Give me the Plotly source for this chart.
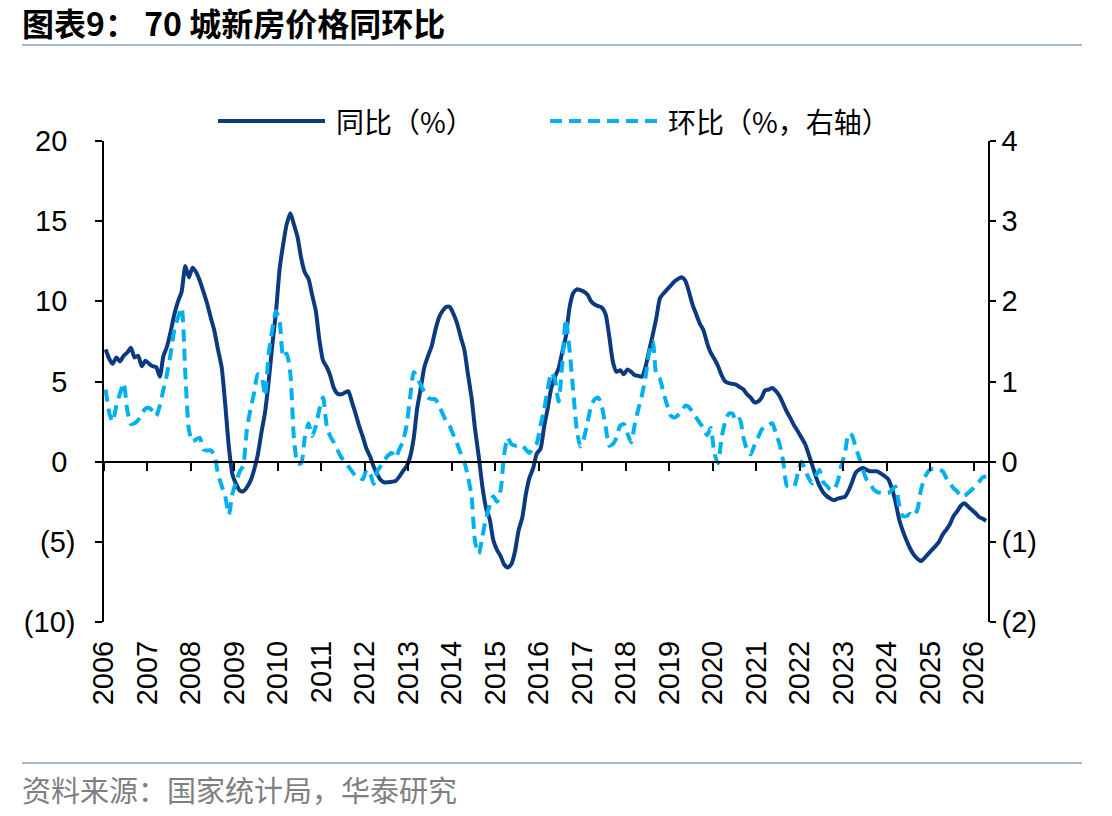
import pandas as pd
import plotly.graph_objects as go

# ---------------- data (monthly, 2006-01 .. 2026-04) ----------------
yoy = [
    # 2006
    7.0, 6.4, 6.1, 6.5, 6.25, 6.6, 6.8, 7.1, 6.5, 6.6, 5.95, 6.3,
    # 2007
    6.1, 5.95, 5.9, 5.3, 6.6, 7.2, 8.1, 9.2, 10.0, 10.6, 12.2, 11.5,
    # 2008
    12.1, 11.8, 11.3, 10.6, 9.9, 9.0, 8.2, 7.0, 5.9, 3.6, 0.9, -0.8,
    # 2009
    -1.4, -1.8, -1.85, -1.6, -1.2, -0.5, 0.4, 1.8, 3.1, 5.0, 7.3, 9.3,
    # 2010
    12.0, 13.6, 14.8, 15.5, 14.8, 14.0, 12.7, 11.8, 11.4, 10.4, 9.4, 7.6,
    # 2011
    6.3, 5.9, 5.4, 4.6, 4.25, 4.2, 4.3, 4.4, 3.7, 3.0, 2.2, 1.55,
    # 2012
    0.8, 0.3, -0.3, -0.8, -1.15, -1.3, -1.28, -1.25, -1.2, -0.95, -0.6, -0.3,
    # 2013
    0.3, 1.5, 3.3, 4.6, 5.9, 6.6, 7.2, 8.2, 9.0, 9.4, 9.65, 9.65,
    # 2014
    9.2, 8.6, 7.8, 7.0, 5.5, 4.0, 2.0, 0.3, -1.6, -2.9, -3.6, -4.9,
    # 2015
    -5.5, -5.9, -6.4, -6.6, -6.4, -5.6, -4.3, -3.5, -2.0, -1.0, -0.4, 0.5,
    # 2016
    0.8, 2.2, 3.3, 4.6, 5.3, 5.8, 6.8, 7.8, 9.6, 10.5, 10.75, 10.7,
    # 2017
    10.6, 10.4, 10.0, 9.8, 9.7, 9.6, 9.2, 7.8, 6.2, 5.6, 5.7, 5.45,
    # 2018
    5.75, 5.6, 5.4, 5.35, 5.3, 5.9, 6.9, 7.9, 9.0, 10.2, 10.5, 10.75,
    # 2019
    11.0, 11.25, 11.4, 11.5, 11.3, 10.6, 9.8, 9.2, 8.6, 8.2, 7.4, 6.8,
    # 2020
    6.4, 5.95, 5.4, 5.0, 4.9, 4.85, 4.8, 4.65, 4.5, 4.2, 4.0, 3.7,
    # 2021
    3.75, 4.0, 4.45, 4.5, 4.6, 4.4, 4.1, 3.6, 3.1, 2.7, 2.25, 1.9,
    # 2022
    1.5, 1.1, 0.5, -0.2, -0.9, -1.5, -1.9, -2.15, -2.3, -2.4, -2.3, -2.25,
    # 2023
    -2.2, -1.8, -1.3, -0.7, -0.5, -0.4, -0.5, -0.6, -0.6, -0.6, -0.75, -0.9,
    # 2024
    -1.1, -1.7, -2.5, -3.6, -4.3, -4.9, -5.4, -5.8, -6.05, -6.2, -6.0, -5.75,
    # 2025
    -5.5, -5.25, -5.0, -4.55, -4.25, -3.9, -3.4, -3.1, -2.75, -2.6, -2.8, -3.0,
    # 2026
    -3.2, -3.45, -3.55, -3.7,
]

mom = [
    # 2006
    0.9, 0.6, 0.5, 0.7, 0.85, 0.98, 0.65, 0.47, 0.48, 0.52, 0.6, 0.66,
    # 2007
    0.67, 0.63, 0.57, 0.7, 0.9, 1.1, 1.35, 1.65, 1.8, 1.92, 1.1, 0.4,
    # 2008
    0.25, 0.28, 0.3, 0.15, 0.14, 0.14, 0.09, -0.15, -0.3, -0.43, -0.66, -0.4,
    # 2009
    -0.25, -0.12, -0.05, 0.4, 0.65, 0.86, 1.09, 1.07, 0.82, 1.35, 1.65, 1.88,
    # 2010
    1.75, 1.3, 1.35, 1.1, 0.3, -0.02, -0.02, 0.3, 0.48, 0.32, 0.44, 0.65,
    # 2011
    0.8, 0.44, 0.32, 0.24, 0.15, 0.06, 0.0, -0.06, -0.12, -0.18, -0.2, -0.22,
    # 2012
    -0.1, -0.15, -0.28, -0.12, -0.05, 0.02, 0.08, 0.11, 0.05, 0.15, 0.25, 0.44,
    # 2013
    0.8, 1.12, 1.05, 0.95, 0.87, 0.8, 0.78, 0.78, 0.7, 0.6, 0.5, 0.44,
    # 2014
    0.33, 0.22, 0.11, 0.0, -0.18, -0.43, -1.0, -1.15, -0.93, -0.7, -0.55, -0.43,
    # 2015
    -0.5, -0.35, 0.08, 0.3, 0.22, 0.2, 0.2, 0.2, 0.15, 0.11, 0.18, 0.23,
    # 2016
    0.45, 0.65, 0.9, 1.11, 1.03, 0.75, 1.2, 1.78, 1.4, 0.9, 0.4, 0.19,
    # 2017
    0.3, 0.5, 0.69, 0.78, 0.8, 0.68, 0.44, 0.2, 0.22, 0.3, 0.45, 0.47,
    # 2018
    0.35, 0.24, 0.45, 0.65, 0.82, 1.05, 1.35, 1.5, 1.08, 1.03, 0.85, 0.7,
    # 2019
    0.57, 0.55, 0.58, 0.62, 0.7, 0.68, 0.62, 0.55, 0.48, 0.42, 0.33, 0.42,
    # 2020
    0.1, -0.02, 0.3, 0.5, 0.6, 0.6, 0.5, 0.53, 0.3, 0.15, 0.09, 0.2,
    # 2021
    0.3, 0.4, 0.44, 0.46, 0.48, 0.35, 0.22, 0.0, -0.3, -0.31, -0.31, -0.15,
    # 2022
    0.0, -0.1, -0.2, -0.27, -0.18, -0.1, -0.25, -0.3, -0.35, -0.35, -0.25, -0.05,
    # 2023
    0.1, 0.35, 0.33, 0.18, 0.05, -0.1, -0.22, -0.27, -0.35, -0.38, -0.39, -0.39,
    # 2024
    -0.39, -0.35, -0.31, -0.54, -0.68, -0.68, -0.65, -0.68, -0.6, -0.35, -0.2, -0.12,
    # 2025
    -0.09, -0.09, -0.1, -0.12, -0.2, -0.27, -0.33, -0.37, -0.43, -0.43, -0.39, -0.35,
    # 2026
    -0.3, -0.25, -0.2, -0.18,
]

years = list(range(2006, 2027))
year_labels = [str(y) for y in years]
left_ticks = [-10, -5, 0, 5, 10, 15, 20]
left_labels = ["(10)", "(5)", "0\u00a0", "5\u00a0", "10\u00a0", "15\u00a0", "20\u00a0"]
right_ticks = [-2, -1, 0, 1, 2, 3, 4]
right_labels = ["(2)", "(1)", "0", "1", "2", "3", "4"]

series_names = ["同比（%）", "环比（%，右轴）"]
title_text = "图表9： 70 城新房价格同环比"
source_text = "资料来源：国家统计局，华泰研究"

# ---------------- layout constants ----------------
W, H = 1112, 816
L, R, T, B = 104, 124, 141, 194
PW, PH = W - L - R, H - T - B

def px(x):
    return (x - L) / PW

def py(y):
    return (H - B - y) / PH

DARK = "#0B3A7E"
LIGHT = "#00B0F0"
RULE = "#A7B7CF"
NUM_FONT = "Liberation Sans, Arial, sans-serif"
CJK_FONT = "Noto Sans CJK SC"

dates = pd.date_range("2006-01-01", periods=len(yoy), freq="MS") + pd.Timedelta(days=14)
x_start = "2006-01-01"
x_end = "2026-05-01"

fig = go.Figure()
fig.add_trace(go.Scatter(
    x=dates, y=yoy, name=series_names[0], mode="lines",
    line=dict(color=DARK, width=4, shape="spline", smoothing=0.6),
    showlegend=False, yaxis="y", xaxis="x",
))
fig.add_trace(go.Scatter(
    x=dates, y=mom, name=series_names[1], mode="lines",
    line=dict(color=LIGHT, width=4, dash="12px,7px", shape="spline", smoothing=0.6),
    showlegend=False, yaxis="y2", xaxis="x",
))
# empty trace so the zero-line axis (x2) is drawn
fig.add_trace(go.Scatter(x=[], y=[], xaxis="x2", yaxis="y", showlegend=False, hoverinfo="skip"))

tickvals = [pd.Timestamp(f"{y}-01-01") for y in years]

fig.update_layout(
    width=W, height=H,
    margin=dict(l=L, r=R, t=T, b=B, pad=0),
    paper_bgcolor="white", plot_bgcolor="white",
    showlegend=False,
    xaxis=dict(
        type="date", range=[x_start, x_end],
        tickvals=tickvals, ticktext=year_labels,
        tickangle=-90, ticks="", showline=False, showgrid=False, zeroline=False,
        tickfont=dict(family=NUM_FONT, size=29, color="black"),
        ticklabelstandoff=12,
    ),
    xaxis2=dict(
        type="date", range=[x_start, x_end], matches="x", overlaying="x",
        anchor="free", position=py(462),
        tickvals=tickvals, showticklabels=False,
        ticks="outside", ticklen=8, tickwidth=1.5, tickcolor="black",
        showline=True, linecolor="black", linewidth=1.5,
        showgrid=False, zeroline=False,
    ),
    yaxis=dict(
        range=[-10, 20], tickvals=left_ticks, ticktext=left_labels,
        showline=True, linecolor="black", linewidth=1.5,
        ticks="outside", ticklen=7, tickwidth=1.5, tickcolor="black",
        showgrid=False, zeroline=False,
        tickfont=dict(family=NUM_FONT, size=29, color="black"),
        ticklabelstandoff=14,
    ),
    yaxis2=dict(
        range=[-2, 4], tickvals=right_ticks, ticktext=right_labels,
        overlaying="y", side="right",
        showline=True, linecolor="black", linewidth=1.5,
        ticks="outside", ticklen=6, tickwidth=1.5, tickcolor="black",
        showgrid=False, zeroline=False,
        tickfont=dict(family=NUM_FONT, size=29, color="black"),
        ticklabelstandoff=0,
    ),
)

shapes = [
    dict(type="line", xref="paper", yref="paper", x0=px(22), x1=px(1082), y0=py(45), y1=py(45),
         line=dict(color=RULE, width=2)),
    dict(type="line", xref="paper", yref="paper", x0=px(22), x1=px(1082), y0=py(763), y1=py(763),
         line=dict(color=RULE, width=2)),
    # legend samples
    dict(type="line", xref="paper", yref="paper", x0=px(218), x1=px(325), y0=py(121), y1=py(121),
         line=dict(color=DARK, width=4)),
    dict(type="line", xref="paper", yref="paper", x0=px(550), x1=px(657), y0=py(121), y1=py(121),
         line=dict(color=LIGHT, width=4, dash="12px,7px")),
]
fig.update_layout(shapes=shapes)

annotations = [
    dict(text=f"<b>{title_text}</b>", xref="paper", yref="paper", x=px(20), y=py(22),
         xanchor="left", yanchor="middle", showarrow=False,
         font=dict(family=CJK_FONT, size=32, color="black")),
    dict(text=source_text, xref="paper", yref="paper", x=px(20), y=py(789),
         xanchor="left", yanchor="middle", showarrow=False,
         font=dict(family=CJK_FONT, size=29, color="#7F7F7F")),
    dict(text=series_names[0], xref="paper", yref="paper", x=px(334), y=py(121),
         xanchor="left", yanchor="middle", showarrow=False,
         font=dict(family=CJK_FONT, size=28, color="black")),
    dict(text=series_names[1], xref="paper", yref="paper", x=px(666), y=py(121),
         xanchor="left", yanchor="middle", showarrow=False,
         font=dict(family=CJK_FONT, size=28, color="black")),
]
fig.update_layout(annotations=annotations)

fig.write_html("out.html")
